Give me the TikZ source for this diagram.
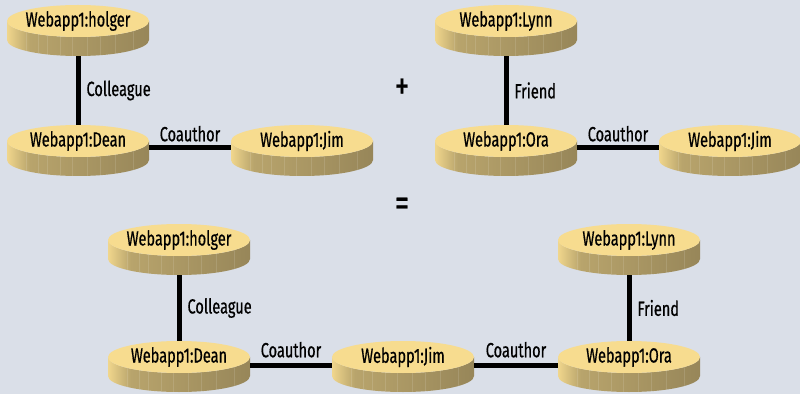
\documentclass[tikz,border=0pt]{standalone}
\usepackage{fontspec}
\setmainfont{Fira Sans}[FakeStretch=0.71, FakeBold=0.6]
\usetikzlibrary{shapes.geometric}

\definecolor{bgcolor}{HTML}{DADFE8}
\definecolor{diskface}{HTML}{F7DC8F}
\definecolor{sidelight}{HTML}{F0D68C}
\definecolor{sidemid}{HTML}{B8A46C}
\definecolor{sidedark}{HTML}{978659}

\pgfdeclarehorizontalshading{diskside}{100bp}{color(0bp)=(sidelight); color(25bp)=(sidelight);
  color(33bp)=(sidemid); color(75bp)=(sidedark); color(100bp)=(sidedark)}

\newcommand\nodefont{\fontsize{20.5}{22}\selectfont}

\tikzset{
  disk/.style={ellipse, fill=diskface, minimum width=142pt, minimum height=32pt,
    inner sep=0pt, font=\nodefont},
  relation/.style={line width=5pt, black},
  rellabel/.style={font=\nodefont, inner sep=2pt},
  operator/.style={font=\fontsize{40}{42}\selectfont, inner sep=0pt}
}

% disk with its side: #1 name, #2 centre of the top face, #3 text
\newcommand\dbdisk[3]{%
  \begin{scope}[shift={(#2)}]
    \shade[shading=diskside] (-71,0) -- (-71,-19)
      arc[start angle=180, end angle=360, x radius=71, y radius=16] -- (71,0)
      arc[start angle=0, end angle=-180, x radius=71, y radius=16] -- cycle;
    \foreach \s in {-52,-40,-31,-18,-6,9,22,37,55}
      \draw[white, opacity=0.12, line width=0.6pt] (\s,{-16*sqrt(1-(\s/71)^2)}) -- ++(0,-19);
  \end{scope}
  \node[disk] (#1) at (#2) {\makebox[0pt]{#3}};
}

\begin{document}
\begin{tikzpicture}[x=1pt, y=1pt]

\useasboundingbox (0,0) rectangle (800,394);
\fill[bgcolor] (0,0) rectangle (800,394);

% first graph
\dbdisk{holgerA}{78,373}{Webapp1:holger}
\dbdisk{deanA}{78,253}{Webapp1:Dean}
\dbdisk{jimA}{302,253}{Webapp1:Jim}
\draw[relation] ([yshift=-19pt]holgerA.south) -- node[rellabel, right, xshift=4pt] {Colleague} (deanA.north);
\draw[relation] ([yshift=-7pt]deanA.east) -- node[rellabel, above, yshift=2pt] {Coauthor} ([yshift=-7pt]jimA.west);

% second graph
\dbdisk{lynnB}{506,373}{Webapp1:Lynn}
\dbdisk{oraB}{506,253}{Webapp1:Ora}
\dbdisk{jimB}{730,253}{Webapp1:Jim}
\draw[relation] ([yshift=-19pt]lynnB.south) -- node[rellabel, right, xshift=4pt] {Friend} (oraB.north);
\draw[relation] ([yshift=-7pt]oraB.east) -- node[rellabel, above, yshift=2pt] {Coauthor} ([yshift=-7pt]jimB.west);

\node[operator] (plus) at (402,305) {+};
\node[operator] (equals) at (402,187) {=};

% merged graph
\dbdisk{holgerC}{179,154}{Webapp1:holger}
\dbdisk{deanC}{179,37}{Webapp1:Dean}
\dbdisk{jimC}{403,37}{Webapp1:Jim}
\dbdisk{oraC}{629,37}{Webapp1:Ora}
\dbdisk{lynnC}{629,154}{Webapp1:Lynn}
\draw[relation] ([yshift=-19pt]holgerC.south) -- node[rellabel, right, xshift=4pt] {Colleague} (deanC.north);
\draw[relation] ([yshift=-8pt]deanC.east) -- node[rellabel, above, yshift=3pt] {Coauthor} ([yshift=-8pt]jimC.west);
\draw[relation] ([yshift=-8pt]jimC.east) -- node[rellabel, above, yshift=3pt] {Coauthor} ([yshift=-8pt]oraC.west);
\draw[relation] ([yshift=-19pt]lynnC.south) -- node[rellabel, right, xshift=4pt] {Friend} (oraC.north);

\end{tikzpicture}
\end{document}
